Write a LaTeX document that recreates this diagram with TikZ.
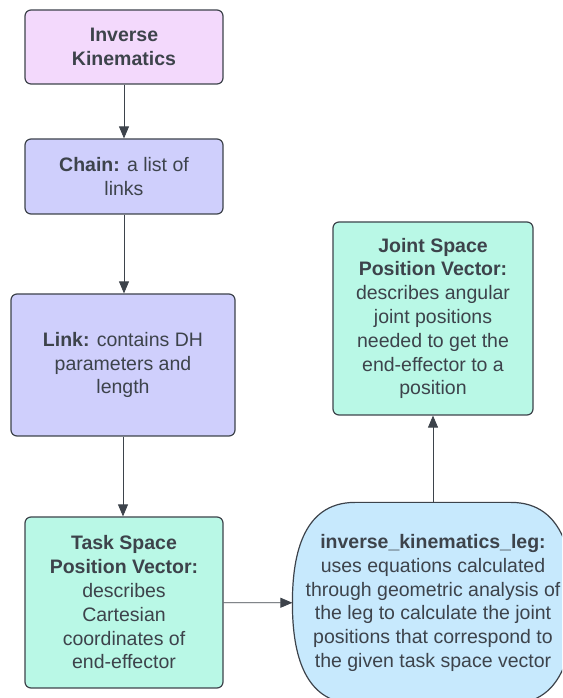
\documentclass[tikz,border=0pt]{standalone}
\usepackage{fontspec}
\setmainfont{Liberation Sans}
\usetikzlibrary{arrows.meta}
\definecolor{edgegray}{HTML}{3D434B}
\definecolor{ikpink}{HTML}{F3D9FC}
\definecolor{chainblue}{HTML}{CFCFFC}
\definecolor{vecmint}{HTML}{B9F8E6}
\definecolor{legblue}{HTML}{C7E9FD}

\begin{document}
\begin{tikzpicture}[x=1pt,y=1pt,line width=1.2pt,
  font=\fontsize{19.5}{23.8}\selectfont,text=edgegray,
  box/.style={draw=edgegray,rounded corners=6pt,align=center,inner sep=0pt},
  flow/.style={draw=edgegray,line width=0.8pt,-{Triangle[length=12pt,width=10pt]}}]
  \path[use as bounding box,clip] (0,0) rectangle (562,698);

  \node[box,fill=ikpink,minimum width=198pt,minimum height=74pt] (ik) at (124,651)
    {\textbf{Inverse}\\\textbf{Kinematics}};
  \node[box,fill=chainblue,minimum width=198pt,minimum height=75pt] (chain) at (124,521.5)
    {\textbf{Chain:} a list of\\links};
  \node[box,fill=chainblue,minimum width=224pt,minimum height=142pt] (link) at (123,333)
    {\textbf{Link:} contains DH\\parameters and\\length};
  \node[box,fill=vecmint,minimum width=198pt,minimum height=171pt] (task) at (124,95.5)
    {\textbf{Task Space}\\\textbf{Position Vector:}\\describes\\Cartesian\\coordinates of\\end-effector};
  \node[box,fill=vecmint,minimum width=200pt,minimum height=193pt] (joint) at (433,379.5)
    {\textbf{Joint Space}\\\textbf{Position Vector:}\\describes angular\\joint positions\\needed to get the\\end-effector to a\\position};

  \node[minimum width=280pt,minimum height=200pt,inner sep=0pt] (ikleg) at (433,95) {};
  \draw[edgegray,fill=legblue] (ikleg.north)
    -- ([xshift=-78pt]ikleg.north)
    .. controls ([xshift=8pt]ikleg.north west) and ([yshift=-58pt]ikleg.north west) .. (ikleg.west)
    .. controls ([yshift=58pt]ikleg.south west) and ([xshift=8pt]ikleg.south west) .. ([xshift=-78pt]ikleg.south)
    -- ([xshift=78pt]ikleg.south)
    .. controls ([xshift=-8pt]ikleg.south east) and ([yshift=58pt]ikleg.south east) .. (ikleg.east)
    .. controls ([yshift=-58pt]ikleg.north east) and ([xshift=-8pt]ikleg.north east) .. ([xshift=78pt]ikleg.north)
    -- cycle;
  \node[align=center] at (ikleg.center)
    {\textbf{inverse\_kinematics\_leg:}\\uses equations calculated\\through geometric analysis of\\the leg to calculate the joint\\positions that correspond to\\the given task space vector};

  \draw[flow] (ik) -- (chain);
  \draw[flow] (chain) -- (chain|-link.north);
  \draw[flow] (link) -- (link|-task.north);
  \draw[flow] (task) -- (ikleg);
  \draw[flow] (ikleg) -- (joint);
\end{tikzpicture}
\end{document}
